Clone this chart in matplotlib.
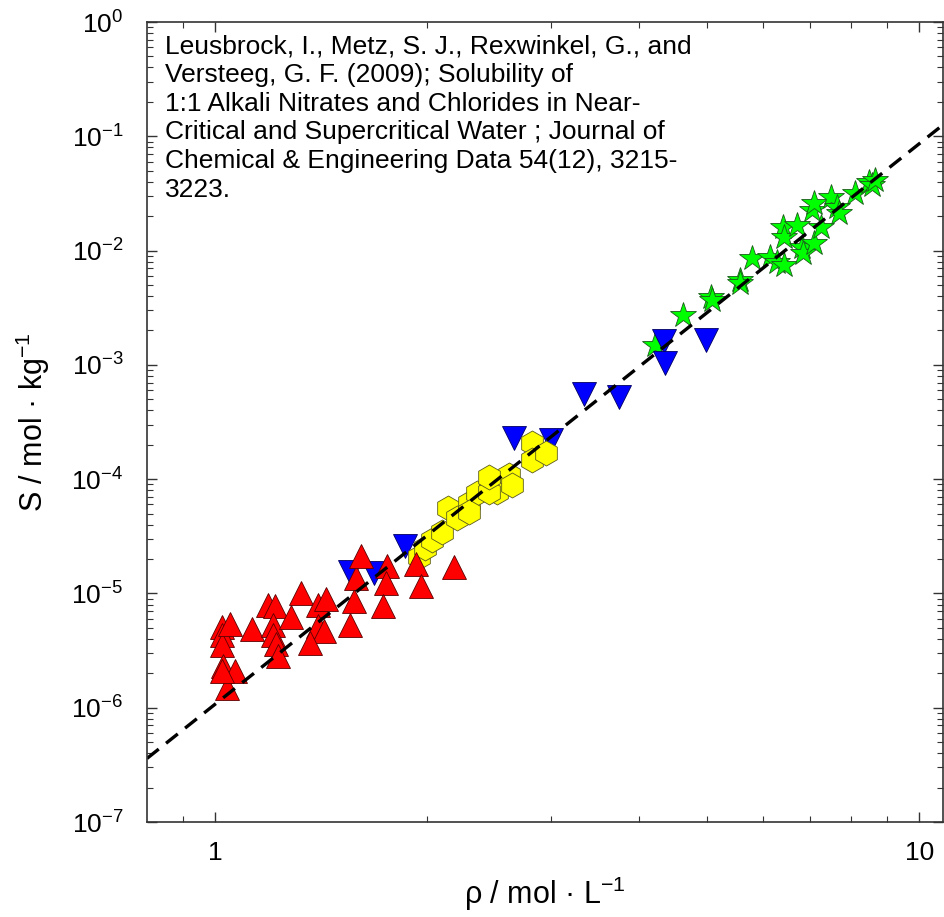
import numpy as np
import matplotlib
matplotlib.use("Agg")
import matplotlib.pyplot as plt
from matplotlib.ticker import NullFormatter, FixedLocator

plt.rcParams['font.family'] = ['Liberation Sans', 'DejaVu Sans']
plt.rcParams['mathtext.fontset'] = 'custom'
plt.rcParams['mathtext.rm'] = 'Liberation Sans'
plt.rcParams['mathtext.it'] = 'Liberation Sans'
plt.rcParams['mathtext.default'] = 'regular'

# --- data (rho in mol/L, S in mol/kg) ---
red_rho = [1.022, 1.022, 1.023, 1.049, 1.027, 1.068, 1.038, 1.024, 1.128, 1.187,
           1.214, 1.207, 1.207, 1.220, 1.227, 1.282, 1.325, 1.399, 1.438, 1.399,
           1.426, 1.362, 1.553, 1.575, 1.587, 1.608, 1.752, 1.748, 1.729, 1.928,
           1.961, 2.180]
red_S = [5.12e-6, 4.33e-6, 3.56e-6, 5.40e-6, 2.32e-6, 2.11e-6, 1.49e-6, 2.11e-6, 4.86e-6, 7.93e-6,
         7.80e-6, 5.30e-6, 4.30e-6, 3.59e-6, 2.83e-6, 6.25e-6, 1.01e-5, 7.93e-6, 8.87e-6, 5.19e-6,
         4.72e-6, 3.71e-6, 5.26e-6, 8.58e-6, 1.37e-5, 2.12e-5, 1.74e-5, 1.24e-5, 7.80e-6, 1.81e-5,
         1.16e-5, 1.71e-5]

blue_rho = [1.556, 1.680, 1.857, 2.654, 2.993, 3.334, 3.738, 4.344, 4.350, 4.970]
blue_S = [1.53e-5, 1.51e-5, 2.60e-5, 2.28e-4, 2.20e-4, 5.56e-4, 5.20e-4, 1.63e-3, 1.04e-3, 1.65e-3]

yellow_rho = [1.944, 1.987, 2.030, 2.098, 2.143, 2.204, 2.290, 2.354, 2.458, 2.513,
              2.612, 2.820, 2.820, 2.945, 2.640, 2.290, 2.446, 2.446]
yellow_S = [2.09e-5, 2.50e-5, 2.93e-5, 3.47e-5, 5.55e-5, 4.54e-5, 6.14e-5, 7.51e-5, 9.82e-5, 7.76e-5,
            1.09e-4, 2.06e-4, 1.47e-4, 1.68e-4, 8.88e-5, 5.19e-5, 7.76e-5, 1.05e-4]

green_rho = [4.205, 4.614, 5.059, 5.080, 5.560, 5.560, 5.780, 6.140, 6.270, 6.430,
             6.400, 6.430, 6.700, 6.810, 6.840, 7.080, 7.040, 7.080, 7.240, 7.480,
             7.640, 7.680, 8.100, 8.470, 8.560, 8.650]
green_S = [1.49e-3, 2.73e-3, 3.94e-3, 3.69e-3, 5.52e-3, 5.20e-3, 8.55e-3, 8.83e-3, 7.98e-3, 7.47e-3,
           1.61e-2, 1.32e-2, 1.67e-2, 1.08e-2, 9.45e-3, 1.16e-2, 2.26e-2, 2.59e-2, 1.61e-2, 2.96e-2,
           2.42e-2, 2.12e-2, 3.16e-2, 4.00e-2, 3.74e-2, 4.14e-2]

# dashed correlation line, end points
line_rho = [0.8, 10.8]
line_S = [3.6e-7, 0.126]

# y decades shown on the axis
y_decades = [1e-7, 1e-6, 1e-5, 1e-4, 1e-3, 1e-2, 1e-1, 1e0]

citation = ("Leusbrock, I., Metz, S. J., Rexwinkel, G., and\n"
            "Versteeg, G. F. (2009); Solubility of\n"
            "1:1 Alkali Nitrates and Chlorides in Near-\n"
            "Critical and Supercritical Water ; Journal of\n"
            "Chemical & Engineering Data 54(12), 3215-\n"
            "3223.")

fig = plt.figure(figsize=(9.45, 9.17), dpi=100)
ax = fig.add_axes([147 / 945, 1 - 822 / 917, 796 / 945, 800 / 917])

ax.plot(green_rho, green_S, ls='none', marker='*', ms=19, mfc='#00ff00',
        mec='#1a5a1a', mew=0.6)
ax.plot(blue_rho, blue_S, ls='none', marker='v', ms=17, mfc='#0000ff',
        mec='#000060', mew=0.6)
ax.plot(yellow_rho, yellow_S, ls='none', marker='h', ms=18, mfc='#ffff00',
        mec='#5a5a20', mew=0.6)
ax.plot(red_rho, red_S, ls='none', marker='^', ms=17, mfc='#ff0000',
        mec='#5a0000', mew=0.6)
ax.plot(line_rho, line_S, color='black', lw=2.4, ls=(0, (4.5, 2.8)))

ax.set_xscale('log')
ax.set_yscale('log')
ax.set_xlim(0.8, 10.8)
ax.set_ylim(1e-7, 1)

ax.set_xticks([1, 10])
ax.set_xticklabels(['1', '10'])
ax.xaxis.set_minor_locator(FixedLocator([0.9, 2, 3, 4, 5, 6, 7, 8, 9]))
ax.xaxis.set_minor_formatter(NullFormatter())
ax.set_yticks(y_decades)
ax.set_yticklabels([r'$10^{%d}$' % round(np.log10(v)) for v in y_decades])
y_minor = [m * d for d in y_decades[:-1] for m in range(2, 10)]
ax.yaxis.set_minor_locator(FixedLocator(y_minor))
ax.yaxis.set_minor_formatter(NullFormatter())

ax.tick_params(which='both', direction='in', top=True, right=True, labelsize=19,
               color='#333333')
ax.tick_params(which='major', length=7, width=1.0)
ax.tick_params(which='minor', length=4, width=0.8)
ax.tick_params(axis='x', pad=14)
ax.tick_params(axis='y', pad=17)
for s in ax.spines.values():
    s.set_color('#333333')
    s.set_linewidth(1.2)

ax.set_xlabel(r'ρ / mol · L$^{-1}$', fontsize=22, labelpad=7)
ax.set_ylabel(r'S / mol · kg$^{-1}$', fontsize=22, labelpad=14)

ax.text(0.0226, 0.984, citation, transform=ax.transAxes, ha='left', va='top',
        fontsize=19, linespacing=1.24)

fig.savefig('out.png', dpi=100)
